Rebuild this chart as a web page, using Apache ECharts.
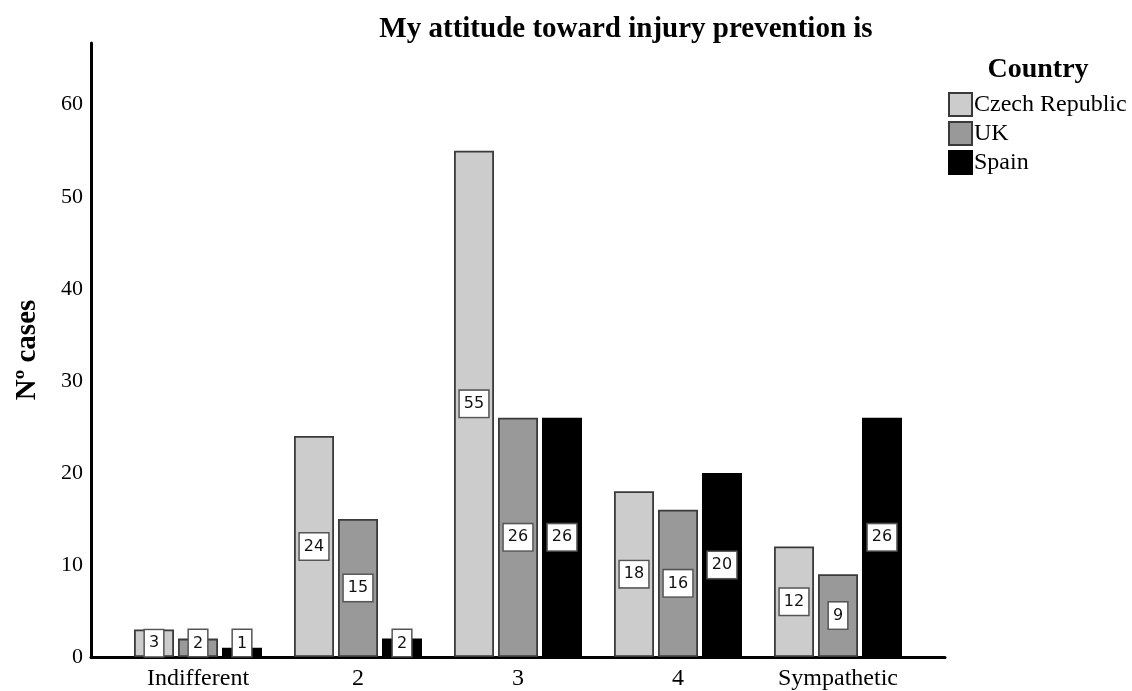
<!DOCTYPE html>
<html><head><meta charset="utf-8">
<script src="https://cdn.jsdelivr.net/npm/echarts@6/dist/echarts.min.js"></script>
<style>html,body{margin:0;padding:0;background:#fff}#c{width:1132px;height:691px}</style>
</head><body><div id="c"></div>
<script>
const categories = ['Indifferent', '2', '3', '4', 'Sympathetic'];
const seriesNames = ['Czech Republic', 'UK', 'Spain'];
const czech = [3, 24, 55, 18, 12];
const uk = [2, 15, 26, 16, 9];
const spain = [1, 2, 26, 20, 26];
const yTicks = [0, 10, 20, 30, 40, 50, 60];

const serif = 'Liberation Serif';
const fills = ['#cccccc', '#999999', '#000000'];
const borders = ['#3a3a3a', '#3a3a3a', '#000000'];
const YMAX = 66.7;

function mkSeries(name, vals, i) {
  return {
    name: name, type: 'bar', xAxisIndex: 1, yAxisIndex: 1,
    barWidth: 40, barGap: '10%',
    itemStyle: { color: fills[i], borderColor: borders[i], borderWidth: 1.8 },
    data: vals.map(v => ({
      value: v,
      label: v < 3 ? { position: 'insideBottom', distance: 1 } : { position: 'inside' }
    })),
    label: {
      show: true, color: '#111', fontFamily: 'DejaVu Sans', fontSize: 16, lineHeight: 19,
      backgroundColor: '#fff', borderColor: '#555', borderWidth: 1.5,
      padding: [4, 4, 3, 4]
    }
  };
}

const chart = echarts.init(document.getElementById('c'), null, { renderer: 'canvas' });
chart.setOption({
  animation: false,
  title: [
    { text: 'My attitude toward injury prevention is', left: 621, top: 10, textAlign: 'center',
      textStyle: { fontFamily: serif, fontWeight: 'bold', fontSize: 29, color: '#000' } },
    { text: 'Country', left: 1033, top: 51, textAlign: 'center',
      textStyle: { fontFamily: serif, fontWeight: 'bold', fontSize: 28, color: '#000' } }
  ],
  legend: {
    orient: 'vertical', left: 943, top: 87, itemWidth: 23, itemHeight: 23, itemGap: 4,
    icon: 'rect',
    data: seriesNames,
    textStyle: { fontFamily: serif, fontSize: 24, color: '#000', padding: [0, 0, 0, -3] }
  },
  grid: [
    { left: 91, right: 187, top: 43, bottom: 34 },
    { left: 118, right: 214, top: 43, bottom: 34 }
  ],
  xAxis: [
    { gridIndex: 0, type: 'category', data: [], axisLine: { lineStyle: { color: '#000', width: 3 } },
      axisTick: { show: false }, axisLabel: { show: false } },
    { gridIndex: 1, type: 'category', data: categories, axisLine: { show: false },
      axisTick: { show: false },
      axisLabel: { fontFamily: serif, fontSize: 24, color: '#000', margin: 10 } }
  ],
  yAxis: [
    { gridIndex: 0, type: 'value', min: 0, max: YMAX, interval: 10,
      name: 'Nº cases', nameLocation: 'middle', nameGap: 49,
      nameTextStyle: { fontFamily: serif, fontWeight: 'bold', fontSize: 29, color: '#000' },
      axisLine: { show: true, lineStyle: { color: '#000', width: 3 } },
      axisTick: { show: false }, splitLine: { show: false },
      axisLabel: { fontFamily: serif, fontSize: 22, color: '#000', margin: 8, showMaxLabel: false,
        formatter: v => yTicks.includes(v) ? String(v) : '' } },
    { gridIndex: 1, type: 'value', min: 0, max: YMAX, interval: 10, show: false, splitLine: { show: false } }
  ],
  series: [mkSeries(seriesNames[0], czech, 0), mkSeries(seriesNames[1], uk, 1), mkSeries(seriesNames[2], spain, 2)]
});
</script></body></html>
